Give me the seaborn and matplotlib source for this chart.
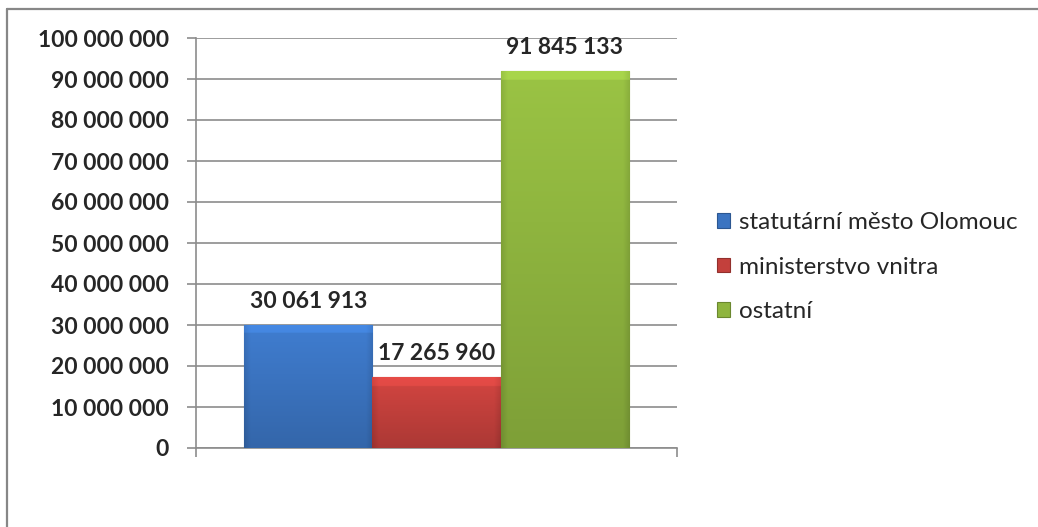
import numpy as np
import pandas as pd
import matplotlib
matplotlib.use('Agg')
import matplotlib.pyplot as plt
import matplotlib.colors as mcolors
from matplotlib.lines import Line2D
from matplotlib.patches import Patch
import seaborn as sns

# data
series = ['statutární město Olomouc', 'ministerstvo vnitra', 'ostatní']
values = [30061913, 17265960, 91845133]
colors = ['#3b74c1', '#c3403c', '#8fb53f']
yticks = list(range(0, 100000001, 10000000))

GRID = '#8c8c8c'


def fmt(v):
    return f'{v:,.0f}'.replace(',', ' ')


def darker(c, f=0.78):
    return tuple(np.array(mcolors.to_rgb(c)) * f)


df = pd.DataFrame({'cat': ['x'] * len(series), 'series': series, 'value': values})

sns.set_style('white')
plt.rcParams['font.family'] = ['Lato', 'DejaVu Sans']

fig = plt.figure(figsize=(10.38, 5.27), dpi=100)
ax = fig.add_axes([196 / 1038, 1 - 448 / 527, (677 - 196) / 1038, (448 - 38) / 527])

sns.barplot(data=df, x='cat', y='value', hue='series', hue_order=series,
            palette=colors, width=0.8, saturation=1, legend=False, ax=ax,
            linewidth=0, zorder=3)

ax.set_xlim(-0.5, 0.5)
ax.set_ylim(0, 100000000)


# gradient / bevel fill for each bar
def shade(color, bar_px, h=300, w=120):
    base = np.array(mcolors.to_rgb(color))
    yy = np.linspace(0, 1, h)[:, None]      # 0 top -> 1 bottom
    xx = np.linspace(0, 1, w)[None, :]
    f = 1.08 - 0.2 * yy + 0 * xx
    edge = np.minimum(xx, 1 - xx)
    f = f - 0.1 * np.clip(0.05 - edge, 0, None) / 0.05
    strip = max(2, int(h * 9 / bar_px))
    f[:strip] = f[:strip] + 0.1
    return np.clip(base[None, None, :] * f[:, :, None], 0, 1)


for patch, c in zip(ax.patches, colors):
    x0, y0 = patch.get_x(), patch.get_y()
    w, h = patch.get_width(), patch.get_height()
    img = shade(c, h / 100000000 * 410)
    im = ax.imshow(img, extent=[x0, x0 + w, y0, y0 + h], aspect='auto',
                   zorder=4, interpolation='bilinear')
    im.set_clip_path(patch)
    patch.set_edgecolor(darker(c, 0.8))
    patch.set_linewidth(0.8)

ax.set_xlim(-0.5, 0.5)
ax.set_ylim(0, 100000000)

# value labels
for patch, v in zip(ax.patches, values):
    ax.annotate(fmt(v), (patch.get_x() + patch.get_width() / 2, v),
                xytext=(0, 17), textcoords='offset points',
                ha='center', va='center', fontsize=16.5, fontweight='bold',
                zorder=6)

ax.set_yticks(yticks)
ax.set_yticklabels([fmt(t) for t in yticks], fontsize=16.5, fontweight='bold')
ax.set_xticks([-0.5, 0.5])
ax.set_xticklabels(['', ''])
ax.set_xlabel('')
ax.set_ylabel('')
ax.tick_params(axis='y', direction='out', length=6.5, width=1.2, color=GRID,
               pad=13, left=True)
ax.tick_params(axis='x', direction='out', length=6.5, width=1.2, color=GRID,
               bottom=True)
ax.grid(axis='y', color=GRID, linewidth=1.2, zorder=0)
ax.set_axisbelow(True)
for s in ['top', 'right']:
    ax.spines[s].set_visible(False)
for s in ['left', 'bottom']:
    ax.spines[s].set_color(GRID)
    ax.spines[s].set_linewidth(1.2)

handles = [Patch(facecolor=c, edgecolor=darker(c, 0.75), linewidth=0.8)
           for c in colors]
fig.legend(handles, series, loc='center left',
           bbox_to_anchor=(717 / 1038, 1 - 267 / 527), frameon=False,
           fontsize=17.5, handlelength=0.55, handleheight=0.55,
           handletextpad=0.35, labelspacing=0.96, borderaxespad=0,
           borderpad=0)

# outer chart border (only top and left edges visible)
fig.add_artist(Line2D([7 / 1038, 1.0], [1 - 9 / 527, 1 - 9 / 527],
                      transform=fig.transFigure, color='#878787', linewidth=1.6))
fig.add_artist(Line2D([7 / 1038, 7 / 1038], [1 - 9 / 527, 0],
                      transform=fig.transFigure, color='#878787', linewidth=1.6))

fig.savefig('out.png', dpi=100)
